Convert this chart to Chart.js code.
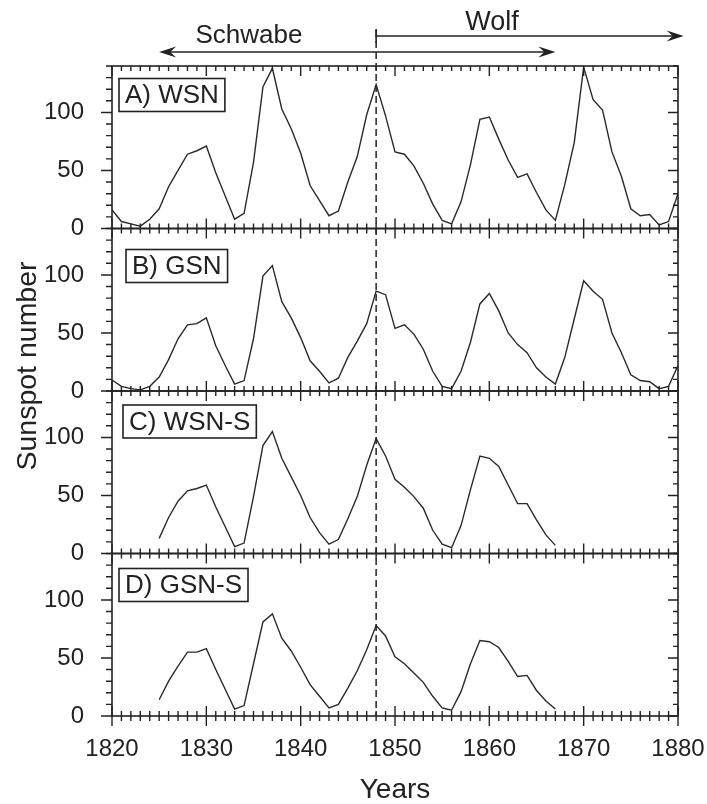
<!DOCTYPE html>
<html>
<head>
<meta charset="utf-8">
<script src="https://cdn.jsdelivr.net/npm/chart.js@4.4.1/dist/chart.umd.min.js"></script>
<style>
html,body{margin:0;padding:0;background:#fff;}
#wrap{position:relative;width:707px;height:804px;}
</style>
</head>
<body>
<div id="wrap"><canvas id="c" width="707" height="804"></canvas></div>
<script>
// ---------- data ----------
const years = Array.from({length: 61}, (_, i) => 1820 + i);          // 1820..1880
const yearsS = Array.from({length: 43}, (_, i) => 1825 + i);         // 1825..1867

const wsn = [16, 6, 4, 2, 8, 17, 36, 50, 64, 67,
             71, 48, 28, 8, 13, 57, 122, 138, 103, 86,
             65, 37, 24, 11, 15, 40, 62, 98, 124, 97,
             66, 64, 54, 39, 21, 7, 4, 23, 55, 94,
             96, 77, 59, 44, 47, 31, 16, 7, 38, 74,
             139, 111, 102, 66, 45, 17, 11, 12, 3, 6,
             30];
const gsn = [9.5, 4, 2, 1, 4, 12, 27, 45, 57, 58,
             63, 39, 22, 6, 9, 45, 99, 108, 77, 63,
             46, 26, 17, 7, 11, 29, 43, 58, 86, 83,
             54, 57, 49, 36, 17, 4, 2, 17, 42, 75,
             84, 69, 50, 40, 33, 20, 12, 6, 29, 62,
             95, 86, 79, 50, 33, 14, 9, 8, 2, 4,
             22];
const wsnS = [13, 31, 45, 54, 56, 59, 40, 23, 6, 9,
              49, 93, 105, 82, 66, 50, 31, 18, 8, 12,
              30, 49, 76, 99, 84, 64, 57, 49, 39, 20,
              8, 5, 24, 55, 84, 82, 75, 59, 43, 43,
              29, 16, 7];
const gsnS = [14, 30, 43, 55, 55, 58, 40, 23, 6, 9,
              45, 81, 88, 67, 56, 42, 27, 17, 7, 10,
              24, 39, 57, 78, 69, 51, 45, 37, 29, 17,
              7, 5, 21, 45, 65, 64, 59, 47, 34, 35,
              22, 13, 6];

const panelLabels = ['A) WSN', 'B) GSN', 'C) WSN-S', 'D) GSN-S'];
const xTickLabels = [1820, 1830, 1840, 1850, 1860, 1870, 1880];
const yTickLabels = [0, 50, 100];
const schwabeSpan = [1825, 1867];
const wolfSpan = [1848, 1880.6];
const changeYear = 1848;

// ---------- styling ----------
const FONT = "'Liberation Sans', Arial, sans-serif";
const INK = '#222';
const LINE = '#2a2a2a';

const toPts = (xs, ys) => xs.map((x, i) => ({x: x, y: ys[i]}));

function yScale(weight) {
  return {
    type: 'linear', position: 'left', stack: 'panels', stackWeight: 1, weight: weight,
    min: 0, max: 140,
    grid: {display: false}, border: {display: false},
    ticks: {
      stepSize: 10, autoSkip: false, padding: 20, color: INK,
      font: {family: FONT, size: 24},
      callback: (v) => yTickLabels.includes(v) ? String(v) : ''
    },
    afterFit: (s) => { s.width = 112; s.paddingTop = 0; s.paddingBottom = 0; }
  };
}

const ds = (data, yAxisID) => ({
  data: data, yAxisID: yAxisID, borderColor: LINE, borderWidth: 1.4,
  pointRadius: 0, tension: 0, fill: false
});

function arrowHead(ctx, tipX, y, dir) {
  // dir = +1 pointing right, -1 pointing left
  ctx.beginPath();
  ctx.moveTo(tipX, y);
  ctx.lineTo(tipX - dir * 17, y - 5.5);
  ctx.lineTo(tipX - dir * 11, y);
  ctx.lineTo(tipX - dir * 17, y + 5.5);
  ctx.closePath();
  ctx.fill();
}

const decor = {
  id: 'decor',
  afterDatasetsDraw(chart) {
    const ctx = chart.ctx;
    const x = chart.scales.x;
    const ys = ['yA', 'yB', 'yC', 'yD'].map(id => chart.scales[id]);
    const L = chart.chartArea.left, R = chart.chartArea.right;
    ctx.save();
    ctx.strokeStyle = INK;
    ctx.fillStyle = INK;

    ys.forEach((s, i) => {
      const t = s.top, b = s.bottom;
      ctx.lineWidth = 1.6;
      ctx.setLineDash([]);
      ctx.strokeRect(L, t, R - L, b - t);
      ctx.lineWidth = 1.4;
      ctx.beginPath();
      for (let yr = x.min; yr <= x.max; yr++) {
        const px = x.getPixelForValue(yr);
        const len = yr % 10 === 0 ? 10 : 5;
        ctx.moveTo(px, t); ctx.lineTo(px, t + len);
        ctx.moveTo(px, b); ctx.lineTo(px, b - len);
        if (i === 3) { ctx.moveTo(px, b); ctx.lineTo(px, b + len); }
      }
      for (let v = s.min; v <= s.max; v += 10) {
        const py = s.getPixelForValue(v);
        const major = v % 50 === 0;
        ctx.moveTo(L, py); ctx.lineTo(L - (major ? 11 : 6), py);
        ctx.moveTo(R, py); ctx.lineTo(R - (major ? 10 : 5), py);
      }
      ctx.stroke();
    });

    // dashed vertical line at change year
    const cx = x.getPixelForValue(changeYear);
    ctx.lineWidth = 1.5;
    ctx.setLineDash([7, 4]);
    ctx.beginPath();
    ctx.moveTo(cx, 30);
    ctx.lineTo(cx, ys[3].bottom);
    ctx.stroke();
    ctx.setLineDash([]);

    // Schwabe arrow (double headed)
    const sy = 52;
    const s1 = x.getPixelForValue(schwabeSpan[0]), s2 = x.getPixelForValue(schwabeSpan[1]);
    ctx.lineWidth = 1.6;
    ctx.beginPath(); ctx.moveTo(s1 + 8, sy); ctx.lineTo(s2 - 8, sy); ctx.stroke();
    arrowHead(ctx, s1, sy, -1);
    arrowHead(ctx, s2, sy, 1);

    // Wolf arrow (bar at start, head at end)
    const wy = 36;
    const w1 = x.getPixelForValue(wolfSpan[0]), w2 = x.getPixelForValue(wolfSpan[1]);
    ctx.beginPath(); ctx.moveTo(w1, wy); ctx.lineTo(w2 - 8, wy); ctx.stroke();
    ctx.beginPath(); ctx.moveTo(w1, wy - 7); ctx.lineTo(w1, wy + 7); ctx.stroke();
    arrowHead(ctx, w2, wy, 1);

    // annotation texts
    ctx.textAlign = 'center';
    ctx.textBaseline = 'alphabetic';
    ctx.font = '26px ' + FONT;
    ctx.fillText('Schwabe', 249, 43);
    ctx.font = '27px ' + FONT;
    ctx.fillText('Wolf', 492, 30);

    // y axis title
    ctx.save();
    ctx.translate(28, 366);
    ctx.rotate(-Math.PI / 2);
    ctx.textAlign = 'center';
    ctx.textBaseline = 'middle';
    ctx.font = '28.5px ' + FONT;
    ctx.fillText('Sunspot number', 0, 0);
    ctx.restore();

    // panel labels in boxes
    const offs = [[7, 12.5], [14, 21], [11, 14], [7, 15]];
    ctx.font = '26px ' + FONT;
    ctx.textAlign = 'left';
    ctx.textBaseline = 'middle';
    ys.forEach((s, i) => {
      const bx = L + offs[i][0], by = s.top + offs[i][1];
      const w = ctx.measureText(panelLabels[i]).width + 12, h = 33;
      ctx.fillStyle = '#fff';
      ctx.fillRect(bx, by, w, h);
      ctx.strokeStyle = INK;
      ctx.lineWidth = 1.6;
      ctx.strokeRect(bx, by, w, h);
      ctx.fillStyle = INK;
      ctx.fillText(panelLabels[i], bx + 6, by + h / 2 + 1);
    });
    ctx.restore();
  }
};

new Chart(document.getElementById('c'), {
  type: 'line',
  data: {
    datasets: [
      ds(toPts(years, wsn), 'yA'),
      ds(toPts(years, gsn), 'yB'),
      ds(toPts(yearsS, wsnS), 'yC'),
      ds(toPts(yearsS, gsnS), 'yD')
    ]
  },
  options: {
    responsive: false,
    animation: false,
    events: [],
    layout: {padding: {top: 66, right: 29, bottom: 0, left: 0}},
    plugins: {legend: {display: false}, tooltip: {enabled: false}, title: {display: false}},
    scales: {
      x: {
        type: 'linear', min: 1820, max: 1880,
        grid: {display: false}, border: {display: false},
        ticks: {
          stepSize: 10, autoSkip: false, maxRotation: 0, padding: 11, color: INK,
          font: {family: FONT, size: 24},
          callback: (v) => xTickLabels.includes(v) ? String(v) : ''
        },
        title: {display: true, text: 'Years', color: INK, font: {family: FONT, size: 28, lineHeight: 1}, padding: {top: 0, bottom: 0}},
        afterFit: (s) => { s.height = 88; s.paddingLeft = 0; s.paddingRight = 0; }
      },
      yA: yScale(4),
      yB: yScale(3),
      yC: yScale(2),
      yD: yScale(1)
    }
  },
  plugins: [decor]
});
</script>
</body>
</html>
